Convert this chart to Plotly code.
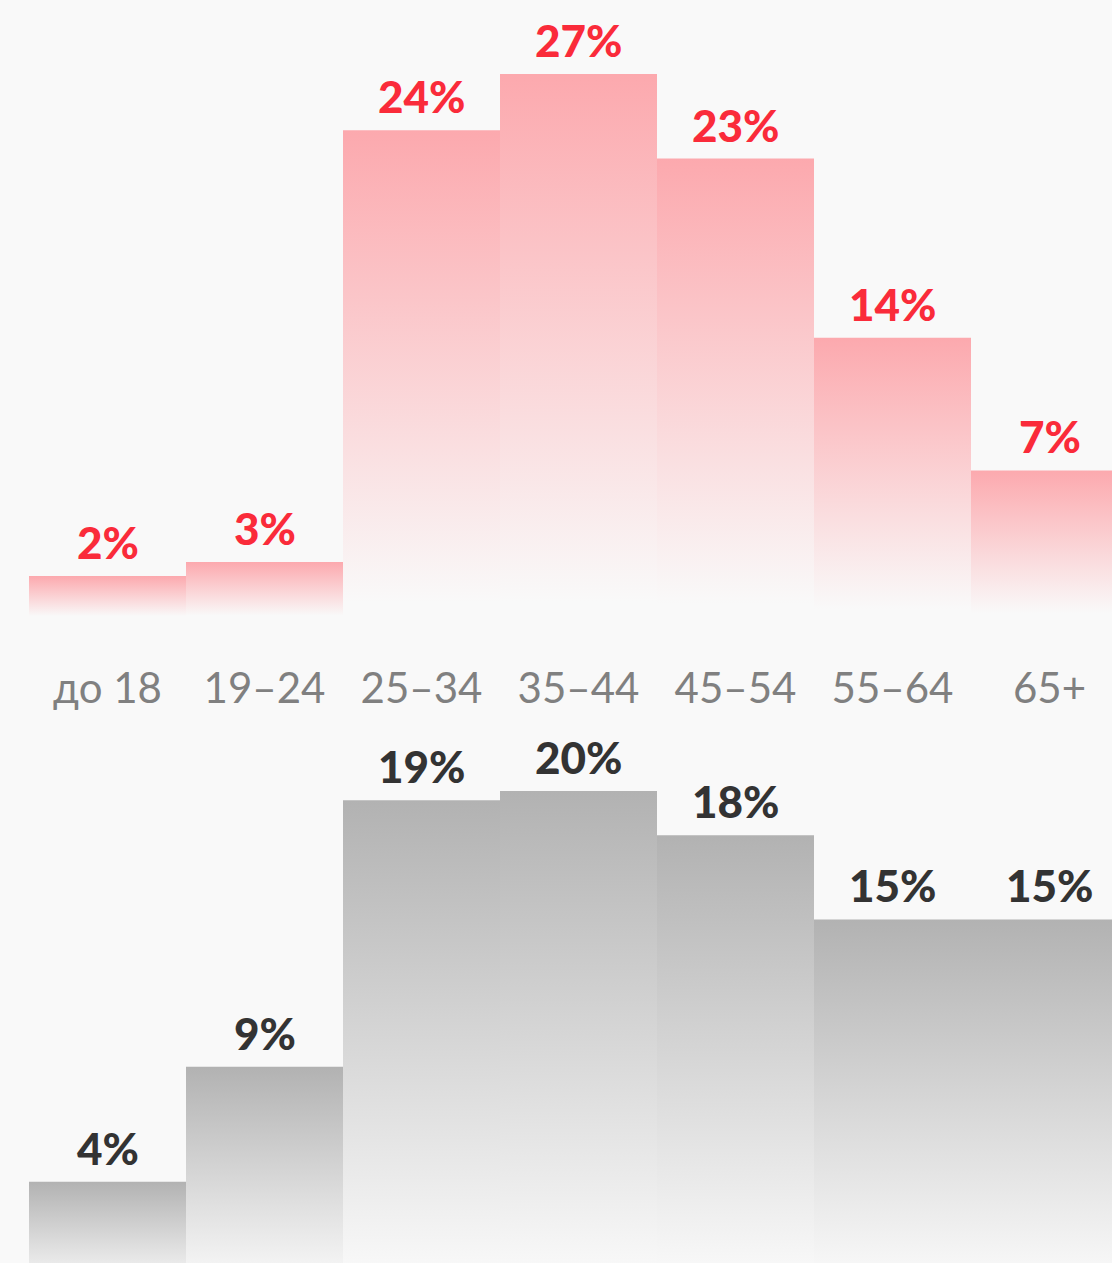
import plotly.graph_objects as go

# ---- data ----
categories = ["до 18", "19–24", "25–34", "35–44", "45–54", "55–64", "65+"]
top_values = [2.05, 2.75, 24.2, 27.0, 22.8, 13.9, 7.3]
top_labels = ["2%", "3%", "24%", "27%", "23%", "14%", "7%"]
bottom_values = [4.26, 8.85, 19.5, 19.87, 18.1, 14.74, 14.74]
bottom_labels = ["4%", "9%", "19%", "20%", "18%", "15%", "15%"]

BG = "#f9f9f9"
PINK_TOP = "#fca9ae"
GRAY_TOP = "#b2b2b2"
RED_TEXT = "#fa2b3a"
DARK_TEXT = "#333333"
CAT_TEXT = "#808080"

fig = go.Figure()

def add_bars(values, labels, xref, yref, top_color, text_color):
    for i, v in enumerate(values):
        fig.add_trace(go.Scatter(
            x=[i - 0.5, i + 0.5, i + 0.5, i - 0.5, i - 0.5],
            y=[0, 0, v, v, 0],
            mode="lines",
            line=dict(width=0, color="rgba(0,0,0,0)"),
            fill="toself",
            fillgradient=dict(type="vertical",
                              colorscale=[[0, BG], [0.03, BG], [1, top_color]]),
            hoverinfo="skip",
            showlegend=False,
            xaxis=xref, yaxis=yref,
        ))
        fig.add_annotation(
            x=i, y=v, xref=xref, yref=yref,
            text=labels[i], showarrow=False,
            yanchor="bottom", xanchor="center", yshift=6,
            font=dict(family="Lato", size=44, color=text_color, weight=900),
        )

add_bars(top_values, top_labels, "x", "y", PINK_TOP, RED_TEXT)
add_bars(bottom_values, bottom_labels, "x2", "y2", GRAY_TOP, DARK_TEXT)

x_dom = [29 / 1112, 1]
x_rng = [-0.5, 6.5 - 16 / 157]

fig.update_layout(
    width=1112, height=1263,
    margin=dict(l=0, r=0, t=0, b=0),
    paper_bgcolor=BG, plot_bgcolor=BG,
    showlegend=False,
    xaxis=dict(domain=x_dom, range=x_rng, showgrid=False, zeroline=False,
               showline=False, ticks="",
               tickmode="array", tickvals=list(range(len(categories))),
               ticktext=categories, ticklabelstandoff=43,
               tickfont=dict(family="Lato", size=42, color=CAT_TEXT),
               anchor="y"),
    yaxis=dict(domain=[0.5112, 0.9892], range=[0, 30], visible=False,
               anchor="x"),
    xaxis2=dict(domain=x_dom, range=x_rng, visible=False, anchor="y2"),
    yaxis2=dict(domain=[0, 0.3961], range=[1.011, 21], visible=False,
                anchor="x2"),
)

fig.write_html("out.html")
